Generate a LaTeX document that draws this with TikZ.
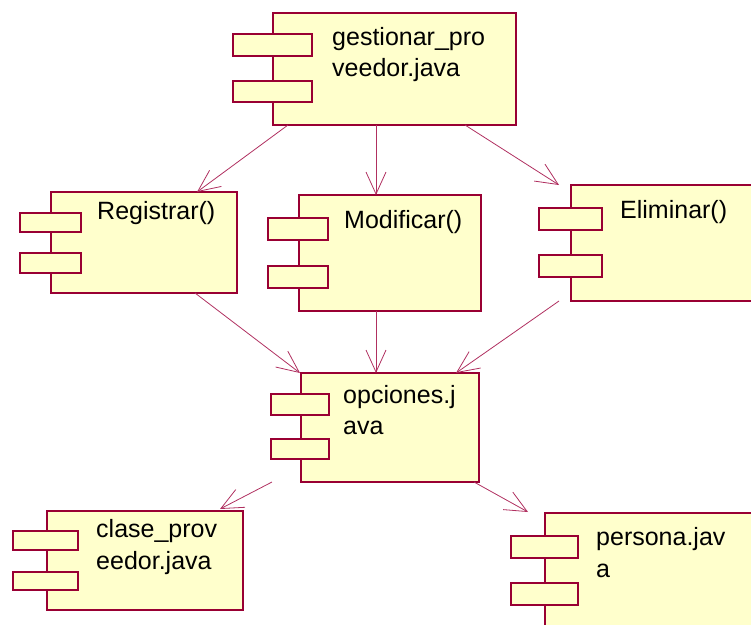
\documentclass[tikz,border=0pt]{standalone}
\usepackage{fontspec}
\setmainfont{Liberation Sans}
\usetikzlibrary{arrows.meta,calc}
\definecolor{rosered}{HTML}{990033}
\definecolor{roseline}{RGB}{176,48,96}
\definecolor{rosefill}{HTML}{FFFFCC}
\begin{document}
\begin{tikzpicture}[x=1pt,y=-1pt,
  comp/.style={draw=rosered,fill=rosefill,line width=1.4pt,inner sep=0pt,outer sep=0pt,anchor=north west},
  lbl/.style={inner sep=0pt,anchor=base west,text width=200pt,align=left,font=\fontsize{25}{31}\selectfont},
  dep/.style={draw=roseline,line width=0.8pt,-{Straight Barb[length=22pt,width=20pt,line width=0.8pt]}}]
\clip (0,0) rectangle (751,624);
\useasboundingbox (0,0) rectangle (751,624);
% gestionar_proveedor.java
\node[comp,minimum width=243pt,minimum height=112pt] (g) at (273,13) {};
\node[comp,minimum width=79pt,minimum height=22pt] (g1) at (233,34) {};
\node[comp,minimum width=79pt,minimum height=21pt] (g2) at (233,81) {};
\node[lbl] (gt) at (332,45) {gestionar\_pro\\veedor.java};
% Registrar()
\node[comp,minimum width=186pt,minimum height=101pt] (r) at (51,192) {};
\node[comp,minimum width=61pt,minimum height=19pt] (r1) at (20,213) {};
\node[comp,minimum width=61pt,minimum height=20pt] (r2) at (20,253) {};
\node[lbl] (rt) at (97,219) {Registrar()};
% Modificar()
\node[comp,minimum width=182pt,minimum height=116pt] (m) at (299,195) {};
\node[comp,minimum width=60pt,minimum height=22pt] (m1) at (268,218) {};
\node[comp,minimum width=60pt,minimum height=22pt] (m2) at (268,266) {};
\node[lbl] (mt) at (344,228) {Modificar()};
% Eliminar()
\node[comp,minimum width=200pt,minimum height=116pt] (e) at (571,185) {};
\node[comp,minimum width=63pt,minimum height=22pt] (e1) at (539,208) {};
\node[comp,minimum width=63pt,minimum height=22pt] (e2) at (539,255) {};
\node[lbl] (et) at (620,218) {Eliminar()};
% opciones.java
\node[comp,minimum width=178pt,minimum height=109pt] (o) at (301,373) {};
\node[comp,minimum width=58pt,minimum height=21pt] (o1) at (271,394) {};
\node[comp,minimum width=58pt,minimum height=20pt] (o2) at (271,439) {};
\node[lbl] (ot) at (343,403) {opciones.j\\ava};
% clase_proveedor.java
\node[comp,minimum width=196pt,minimum height=99pt] (c) at (47,511) {};
\node[comp,minimum width=65pt,minimum height=19pt] (c1) at (13,531) {};
\node[comp,minimum width=65pt,minimum height=18pt] (c2) at (13,572) {};
\node[lbl,font=\fontsize{25}{32}\selectfont] (ct) at (96,537) {clase\_prov\\eedor.java};
% persona.java
\node[comp,minimum width=220pt,minimum height=130pt] (p) at (545,513) {};
\node[comp,minimum width=67pt,minimum height=22pt] (p1) at (511,536) {};
\node[comp,minimum width=67pt,minimum height=22pt] (p2) at (511,583) {};
\node[lbl,font=\fontsize{25}{32}\selectfont] (pt) at (596,545) {persona.jav\\a};
% dependencies
\draw[dep] ($(g.south west)+(15,0)$) -- ($(r.north west)+(146,0)$);
\draw[dep] ($(g.south west)+(103,0)$) -- ($(m.north west)+(77,0)$);
\draw[dep] ($(g.south west)+(192,0)$) -- ($(e.north west)+(-12,0)$);
\draw[dep] ($(r.south west)+(144,0)$) -- ($(o.north west)+(-1,0)$);
\draw[dep] ($(m.south west)+(77,0)$) -- ($(o.north west)+(75,0)$);
\draw[dep] ($(e.south west)+(-12,0)$) -- ($(o.north west)+(155,0)$);
\draw[dep] ($(o.south west)+(-29,0)$) -- ($(c.north west)+(173,-2)$);
\draw[dep] ($(o.south west)+(173,0)$) -- ($(p.north west)+(-17,-1)$);
\end{tikzpicture}
\end{document}
